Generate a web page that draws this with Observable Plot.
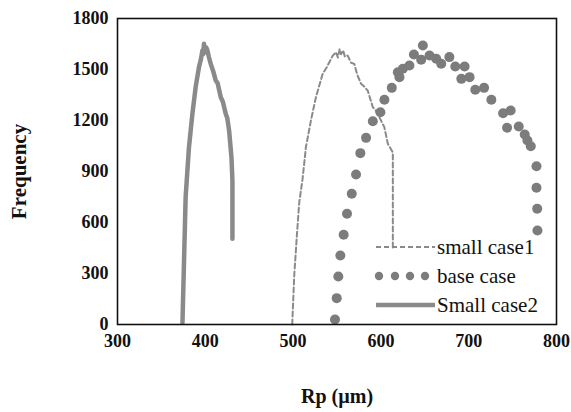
<!DOCTYPE html>
<html>
<head>
<meta charset="utf-8">
<script src="https://cdn.jsdelivr.net/npm/d3@7"></script>
<script src="https://cdn.jsdelivr.net/npm/@observablehq/plot@0.6"></script>
<style>
  html, body { margin: 0; padding: 0; background: #fff; }
  #wrap { position: relative; width: 571px; height: 412px; }
  #legend { position: absolute; left: 0; top: 0; pointer-events: none; }
  #legend text { font-family: "Liberation Serif", serif; font-size: 21px; fill: #111; }
  #wrap svg g[aria-label="y-axis label"] text { font-size: 21px; }
  #wrap svg g[aria-label="x-axis label"] text { font-size: 20px; }
</style>
</head>
<body>
<div id="wrap"></div>
<script>
// ---- data ----
const xTicks = [300, 400, 500, 600, 700, 800];
const yTicks = [0, 300, 600, 900, 1200, 1500, 1800];

const seriesNames = ["small case1", "base case", "Small case2"];

// small case1 (dashed line)
const case1X = [499, 501.3, 504.3, 507, 510.8, 514.6, 520.3, 526, 533.7, 538, 541.3, 545, 548.9, 551, 553, 554.6, 557, 559, 562.2, 566, 569.7, 573, 577.4, 581, 585, 590.8, 594, 598.3, 603.9, 607.9, 613.6, 613.6];
const case1Y = [0, 288, 524, 719, 857, 1043, 1200, 1337, 1475, 1510, 1543, 1580, 1602, 1570, 1620, 1590, 1612, 1575, 1582, 1540, 1533, 1470, 1416, 1400, 1376, 1278, 1260, 1219, 1161, 1063, 1012, 450];

// base case (dots)
const baseX = [547.7, 549.7, 551.5, 553.8, 557.6, 561.4, 566.8, 571.7, 576.6, 583.1, 590.8, 599.4, 604, 612.4, 619.3, 621.1, 625, 632.5, 637.6, 645.9, 647.8, 655.4, 663, 668.7, 678, 684.7, 691.6, 695.3, 701, 707.5, 717.5, 725.8, 739.2, 743.7, 747.8, 757, 763.8, 766.9, 770.7, 777.2, 777.2, 778, 778.3];
const baseY = [29, 155, 282, 406, 528, 651, 769, 882, 1008, 1098, 1196, 1249, 1322, 1392, 1484, 1455, 1504, 1524, 1588, 1557, 1641, 1582, 1563, 1534, 1573, 1518, 1445, 1518, 1455, 1381, 1392, 1322, 1243, 1157, 1259, 1165, 1118, 1082, 1049, 931, 804, 681, 553];

// Small case2 (solid line)
const case2X = [374, 375.7, 377.6, 381.4, 385.3, 389, 392.8, 395, 396.7, 397.5, 398.5, 399.5, 401, 402.4, 404, 406.2, 409, 411.9, 414, 417.6, 420, 423.3, 425, 427.1, 429.8, 430.9, 430.9];
const case2Y = [10, 357, 749, 1043, 1239, 1396, 1514, 1560, 1612, 1590, 1651, 1600, 1630, 1612, 1575, 1533, 1490, 1435, 1420, 1337, 1310, 1239, 1215, 1141, 984, 847, 504];

// ---- tables for Plot ----
const case1 = case1X.map((x, i) => ({x, y: case1Y[i]}));
const base = baseX.map((x, i) => ({x, y: baseY[i]}));
const case2 = case2X.map((x, i) => ({x, y: case2Y[i]}));

const grayLine = "#8a8a8a";
const grayDot = "#7c7c7c";
const dash = "5,3";

const chart = Plot.plot({
  width: 571,
  height: 412,
  marginLeft: 117,
  marginRight: 15,
  marginTop: 18,
  marginBottom: 88,
  style: {fontFamily: "Liberation Serif, serif", fontSize: "18px", fontWeight: "bold", background: "#fff", color: "#111"},
  x: {domain: [300, 800], ticks: xTicks, tickFormat: d => String(d), label: "Rp (µm)", labelAnchor: "center", labelOffset: 78, labelArrow: "none", tickSize: 0, tickPadding: 10},
  y: {domain: [0, 1800], ticks: yTicks, tickFormat: d => String(d), label: "Frequency", labelAnchor: "center", labelOffset: 106, labelArrow: "none", tickSize: 0, tickPadding: 9},
  marks: [
    Plot.line(case1, {x: "x", y: "y", stroke: grayLine, strokeWidth: 2, strokeDasharray: dash}),
    Plot.dot(base, {x: "x", y: "y", r: 5, fill: grayDot, stroke: "none"}),
    Plot.line(case2, {x: "x", y: "y", stroke: grayLine, strokeWidth: 4.5}),
    Plot.frame({stroke: "#111", strokeWidth: 1.6})
  ]
});

const wrap = document.getElementById("wrap");
wrap.appendChild(chart);

// ---- legend (inside plot, lower right) ----
const ns = "http://www.w3.org/2000/svg";
const leg = document.createElementNS(ns, "svg");
leg.setAttribute("id", "legend");
leg.setAttribute("width", 571);
leg.setAttribute("height", 412);
const rowY = [247, 276, 305];
const x0 = 376, x1 = 435, tx = 437;
function el(tag, attrs) {
  const e = document.createElementNS(ns, tag);
  for (const k in attrs) e.setAttribute(k, attrs[k]);
  leg.appendChild(e);
  return e;
}
el("line", {x1: x0, x2: x1, y1: rowY[0], y2: rowY[0], stroke: grayLine, "stroke-width": 2, "stroke-dasharray": dash});
[379, 395, 410, 425].forEach(cx => el("circle", {cx, cy: rowY[1], r: 4.2, fill: grayDot}));
el("line", {x1: x0, x2: x1, y1: rowY[2], y2: rowY[2], stroke: grayLine, "stroke-width": 4.5});
seriesNames.forEach((name, i) => {
  const t = el("text", {x: tx, y: rowY[i], dy: "0.32em"});
  t.textContent = name;
});
wrap.appendChild(leg);
</script>
</body>
</html>
